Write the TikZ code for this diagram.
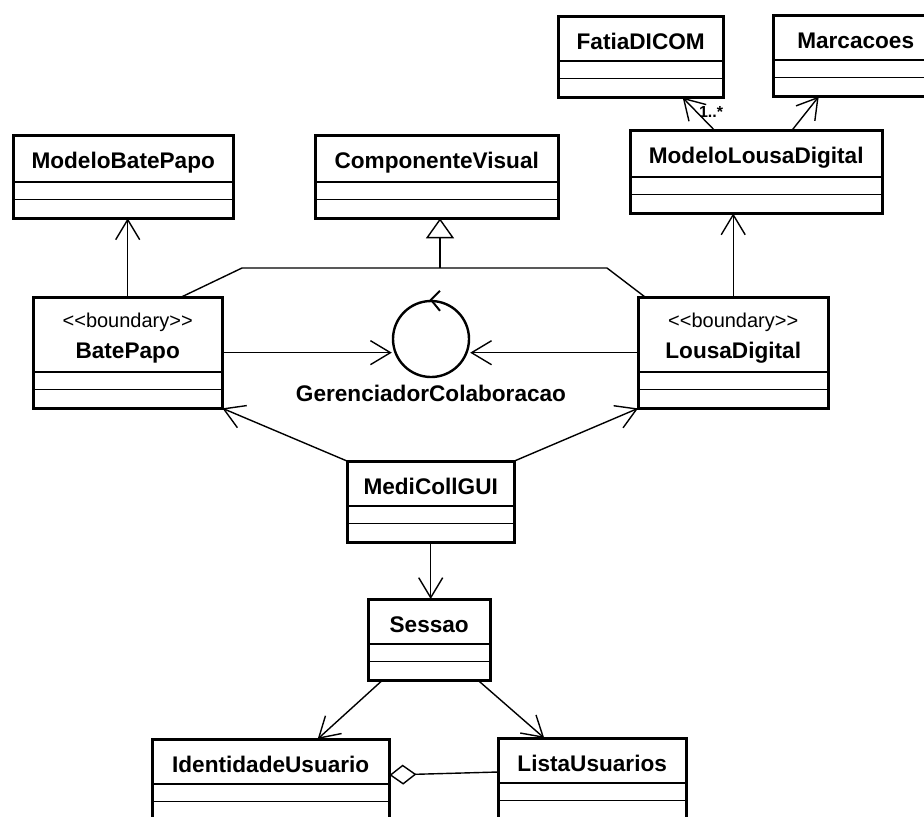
\documentclass[tikz,border=0pt]{standalone}
\usepackage{fontspec}
\setmainfont{Liberation Sans}
\usepackage{tikz}
\usetikzlibrary{shapes, shapes.multipart, arrows.meta, positioning}
\newcommand{\parts}{\nodepart{second}\kern0.1pt\nodepart{third}\rule{0pt}{0.5pt}\kern0.1pt}
\newcommand{\cls}[1]{\rule[-1.5pt]{0pt}{13.5pt}#1\parts}
\newcommand{\bnd}[1]{\vbox{\offinterlineskip\halign{\hfil##\hfil\cr
  \rule[-4.5pt]{0pt}{15pt}{\mdseries\fontsize{10}{15}\selectfont <\kern0pt<boundary>\kern0pt>}\cr
  \rule[-2pt]{0pt}{13pt}#1\cr}}\parts}

\begin{document}
\begin{tikzpicture}
  [
    x=0.5pt, y=-0.5pt,
    Class/.style={rectangle split, rectangle split parts=3, draw=black, line width=0.7pt,
      anchor=north west, inner xsep=4pt, inner ysep=4pt,
      font=\fontsize{11.3}{15}\selectfont\bfseries},
    Control/.style={circle, draw=black, line width=1.2pt, minimum size=38pt, inner sep=0pt},
    Assoc/.style={-{Straight Barb[length=10pt, width=12pt]}, line width=0.7pt},
    Gen/.style={-{Triangle[open, length=10pt, width=14pt]}, line width=0.7pt},
    Aggr/.style={-{Diamond[open, length=13.5pt, width=10pt]}, line width=0.7pt}
  ]
  \clip (0,0) rectangle (924,816);
  % Nodes
  \node[Class, minimum width=109.5pt] (mbp) at (13,135) {\cls{ModeloBatePapo}};
  \node[Class, minimum width=121pt] (cv) at (315,135) {\cls{ComponenteVisual}};
  \node[Class, minimum width=82pt] (fd) at (558,16) {\cls{FatiaDICOM}};
  \node[Class, minimum width=82pt] (mc) at (773,15) {\cls{Marcacoes}};
  \node[Class, minimum width=125.5pt] (mld) at (630,130) {\cls{ModeloLousaDigital}};
  \node[Class, minimum width=94pt] (bp) at (33,297) {\bnd{BatePapo}};
  \node[Class, minimum width=94.5pt] (ld) at (638,297) {\bnd{LousaDigital}};
  \node[Control, label distance=3.5pt,
    label={[font=\fontsize{11.3}{15}\selectfont\bfseries]below:GerenciadorColaboracao}] (gc) at (431,339) {};
  \node[Class, minimum width=83pt] (gui) at (347,461) {\cls{MediCollGUI}};
  \node[Class, minimum width=60.5pt] (ses) at (368,599) {\cls{Sessao}};
  \node[Class, minimum width=118pt] (idu) at (152,739) {\cls{IdentidadeUsuario}};
  \node[Class, minimum width=93.5pt] (lu) at (498,738) {\cls{ListaUsuarios}};
  \node[font=\fontsize{8}{8}\selectfont\bfseries] (mul) at (711,112) {1..*};
  \coordinate (jl) at (242,268);
  \coordinate (jr) at (607,268);
  \coordinate (jc) at (440,268);
  % Lines
  \path [Assoc, draw] (bp.north) -- (bp.north |- mbp.south);
  \path [Assoc, draw] (ld.north) -- (ld.north |- mld.south);
  \path [Assoc, draw] ([xshift=-21pt]mld.north) -- ([xshift=21pt]fd.south);
  \path [Assoc, draw] ([xshift=18pt]mld.north) -- ([xshift=-18.5pt]mc.south);
  \path [draw, line width=0.7pt] ([xshift=-20.5pt]bp.north east) -- (jl) -- (jr) -- ([xshift=3.5pt]ld.north west);
  \path [Gen, draw] (jc) -- (jc |- cv.south);
  \path [Assoc, draw] (bp.east) -- (bp.east -| gc.west);
  \path [Assoc, draw] (ld.west) -- (ld.west -| gc.east);
  \path [draw, line width=1pt] (gc.north) ++(9,-9) -- (gc.north) -- ++(9,11);
  \path [Assoc, draw] (gui.north west) -- (bp.south east);
  \path [Assoc, draw] (gui.north east) -- (ld.south west);
  \path [Assoc, draw] (gui.south) -- (gui.south |- ses.north);
  \path [Assoc, draw] ([xshift=7pt]ses.south west) -- ([xshift=23.5pt]idu.north);
  \path [Assoc, draw] ([xshift=-6pt]ses.south east) -- ([xshift=-24pt]lu.north);
  \path [Aggr, draw] ([yshift=-17pt]lu.north west) -- ([yshift=-18pt]idu.north east);
  % Borders
  \foreach \c in {mbp, cv, fd, mc, mld, bp, ld, gui, ses, idu, lu}
    \draw[line width=1.5pt] (\c.north west) rectangle (\c.south east);
\end{tikzpicture}
\end{document}
